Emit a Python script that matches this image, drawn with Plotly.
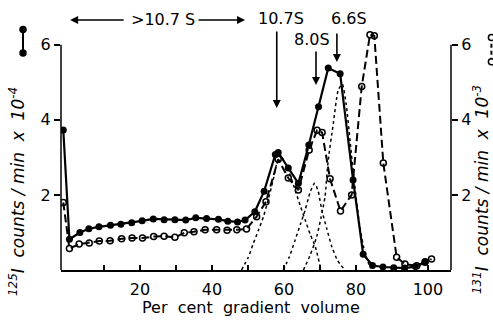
import plotly.graph_objects as go

# 125I series (filled circles, solid line)  - left axis (x10^-4)
i125_x = [-1.3, 0.4, 3.3, 5.8, 8.6, 11.8, 14.7, 17.7, 20.6, 23.7, 26.7, 29.7, 32.7, 35.5,
          38.5, 41.8, 44.4, 47.1, 49.2, 51.9, 54.5, 57.6, 58.4, 61.2, 64.0, 66.9, 69.6,
          72.3, 75.6, 79.2, 82.0, 84.6, 87.5, 90.5, 93.5, 96.5, 99.2]
i125_y = [3.73, 0.82, 1.00, 1.10, 1.15, 1.19, 1.22, 1.26, 1.31, 1.36, 1.34, 1.34, 1.33, 1.39,
          1.37, 1.35, 1.30, 1.28, 1.33, 1.55, 2.10, 3.08, 3.13, 2.72, 2.31, 3.33, 4.35,
          5.38, 5.23, 2.40, 0.42, 0.12, 0.08, 0.06, 0.05, 0.09, 0.20]

# 131I series (open circles, dashed line) - right axis (x10^-3)
i131_x = [-1.3, 0.4, 3.1, 5.9, 8.7, 11.7, 14.9, 17.8, 20.7, 23.8, 26.7, 29.7, 32.3, 35.0,
          38.1, 41.3, 44.2, 46.9, 49.6, 52.4, 55.0, 58.4, 61.2, 64.0, 67.0, 69.2, 70.6,
          72.8, 75.7, 78.8, 81.6, 83.9, 85.1, 87.6, 91.3, 93.6, 96.9, 99.2, 101.0]
i131_y = [1.80, 0.57, 0.69, 0.72, 0.77, 0.78, 0.83, 0.85, 0.85, 0.89, 0.90, 0.87, 0.99, 1.02,
          1.07, 1.07, 1.06, 1.07, 1.09, 1.42, 1.82, 2.95, 2.45, 2.13, 3.20, 3.72, 3.66,
          2.43, 1.57, 2.00, 4.89, 6.27, 6.24, 2.85, 0.34, 0.16, 0.11, 0.22, 0.29]

# dotted resolved components
c107_x = [48.2, 50.0, 51.5, 53.0, 54.3, 55.7, 57.0, 58.3, 59.5, 61.0, 62.2, 63.1, 64.5, 65.9, 67.3, 68.7, 70.3]
c107_y = [0.00, 0.32, 0.71, 1.08, 1.42, 1.90, 2.40, 2.92, 2.98, 2.70, 2.40, 2.13, 1.72, 1.33, 0.95, 0.62, 0.00]

c80_x = [59.8, 61.5, 63.1, 64.5, 65.9, 67.2, 68.5, 69.5, 70.5, 71.9, 73.3, 74.9, 76.5]
c80_y = [0.00, 0.35, 0.80, 1.20, 1.60, 2.05, 2.31, 2.10, 1.60, 1.10, 0.62, 0.25, 0.05]

c66_x = [65.4, 67.3, 69.1, 70.3, 71.4, 72.3, 73.7, 75.1, 76.2, 77.3, 78.4, 79.6, 81.0, 82.5, 84.0]
c66_y = [0.00, 0.40, 0.89, 1.40, 1.95, 2.93, 3.90, 4.80, 4.95, 4.40, 3.40, 2.30, 1.20, 0.45, 0.05]

x_ticks = [10, 20, 30, 40, 50, 60, 70, 80, 90, 100]
x_ticktext = ["", "20", "", "40", "", "60", "", "80", "", "100"]
y_ticks = [2, 4, 6]

FONT = "DejaVu Sans"
fig = go.Figure()

for cx, cy in [(c107_x, c107_y), (c80_x, c80_y), (c66_x, c66_y)]:
    fig.add_trace(go.Scatter(x=cx, y=cy, mode="lines", line=dict(color="black", width=1.5, dash="dot",
                             shape="spline", smoothing=0.6), hoverinfo="skip"))

fig.add_trace(go.Scatter(x=i131_x, y=i131_y, yaxis="y2", mode="lines+markers",
                         line=dict(color="black", width=2, dash="8px,4px"),
                         marker=dict(symbol="circle-open", size=6, color="black", line=dict(width=1.5))))
fig.add_trace(go.Scatter(x=i125_x, y=i125_y, mode="lines+markers",
                         line=dict(color="black", width=2.2),
                         marker=dict(symbol="circle", size=7, color="black")))

shapes = [
    dict(type="line", xref="paper", yref="y", x0=0, x1=0, y0=0, y1=6, line=dict(color="black", width=1.5)),
    dict(type="line", xref="paper", yref="y", x0=1, x1=1, y0=0, y1=6, line=dict(color="black", width=1.5)),
    # legend glyphs beside axis titles
    dict(type="line", xref="paper", yref="paper", x0=-0.0974, x1=-0.0974, y0=0.889, y1=0.986,
         line=dict(color="black", width=2)),
    dict(type="line", xref="paper", yref="paper", x0=1.1036, x1=1.1036, y0=0.853, y1=0.953,
         line=dict(color="black", width=2, dash="4px,3px")),
]
for (px, py, filled) in [(-0.0974, 0.986, True), (-0.0974, 0.889, True), (1.1036, 0.953, False), (1.1036, 0.853, False)]:
    shapes.append(dict(type="circle", xref="paper", yref="paper", xsizemode="pixel", ysizemode="pixel",
                       xanchor=px, yanchor=py, x0=-3, x1=3, y0=-3, y1=3,
                       fillcolor="black" if filled else "white", line=dict(color="black", width=1.5)))

arrow = dict(showarrow=True, arrowhead=2, arrowsize=1, arrowwidth=1.6, arrowcolor="black", text="",
             standoff=0, startstandoff=0)
txt = dict(showarrow=False, xanchor="center", yanchor="middle", font=dict(family=FONT, size=16, color="black"))
annotations = [
    dict(arrow, x=0.6, xref="x", y=1.0246, yref="paper", ax=55, ay=0),
    dict(arrow, x=49.2, xref="x", y=1.0246, yref="paper", ax=-48, ay=0),
    dict(txt, text="&gt;10.7 S", x=26.4, xref="x", y=1.0246, yref="paper"),
    dict(txt, text="10.7S", x=59.2, xref="x", y=(270 - 19) / 244, yref="paper"),
    dict(txt, text="8.0S", x=67.8, xref="x", y=(270 - 39) / 244, yref="paper"),
    dict(txt, text="6.6S", x=78.1, xref="x", y=(270 - 19) / 244, yref="paper"),
    dict(arrow, x=58.0, xref="x", y=(270 - 108) / 244, yref="paper", ax=0, ay=-78),
    dict(arrow, x=68.9, xref="x", y=(270 - 85) / 244, yref="paper", ax=0, ay=-35),
    dict(arrow, x=74.7, xref="x", y=(270 - 62) / 244, yref="paper", ax=0, ay=-30),
    dict(txt, text="Per  cent  gradient  volume", x=0.487, xref="paper", y=(270 - 307) / 244, yref="paper"),
    dict(txt, text="<i><sup>125</sup>I  counts / min  x  10<sup>-4</sup></i>", textangle=-90,
         x=(17 - 61) / 390, xref="paper", y=(270 - 192) / 244, yref="paper",
         font=dict(family=FONT, size=17, color="black")),
    dict(txt, text="<i><sup>131</sup>I  counts / min  x  10<sup>-3</sup></i>", textangle=-90,
         x=(481 - 61) / 390, xref="paper", y=(270 - 190) / 244, yref="paper",
         font=dict(family=FONT, size=17, color="black")),
]

fig.update_layout(
    width=493, height=321, margin=dict(l=61, r=42, t=26, b=51),
    paper_bgcolor="white", plot_bgcolor="white", showlegend=False,
    font=dict(family=FONT, size=16, color="black"),
    xaxis=dict(range=[-1.94, 106.4], tickvals=x_ticks, ticktext=x_ticktext, ticks="inside", ticklen=5,
               tickwidth=1.5, tickcolor="black", showline=True, linecolor="black", linewidth=1.5,
               showgrid=False, zeroline=False, ticklabelstandoff=4),
    yaxis=dict(range=[0, 6.5], tickvals=y_ticks, ticks="outside", ticklen=6, tickwidth=1.5,
               tickcolor="black", showline=False, showgrid=False, zeroline=False),
    yaxis2=dict(range=[0, 6.5], tickvals=y_ticks, ticks="outside", ticklen=6, tickwidth=1.5,
                tickcolor="black", showline=False, showgrid=False, zeroline=False,
                overlaying="y", side="right"),
    shapes=shapes, annotations=annotations,
)

fig.write_html("out.html")
